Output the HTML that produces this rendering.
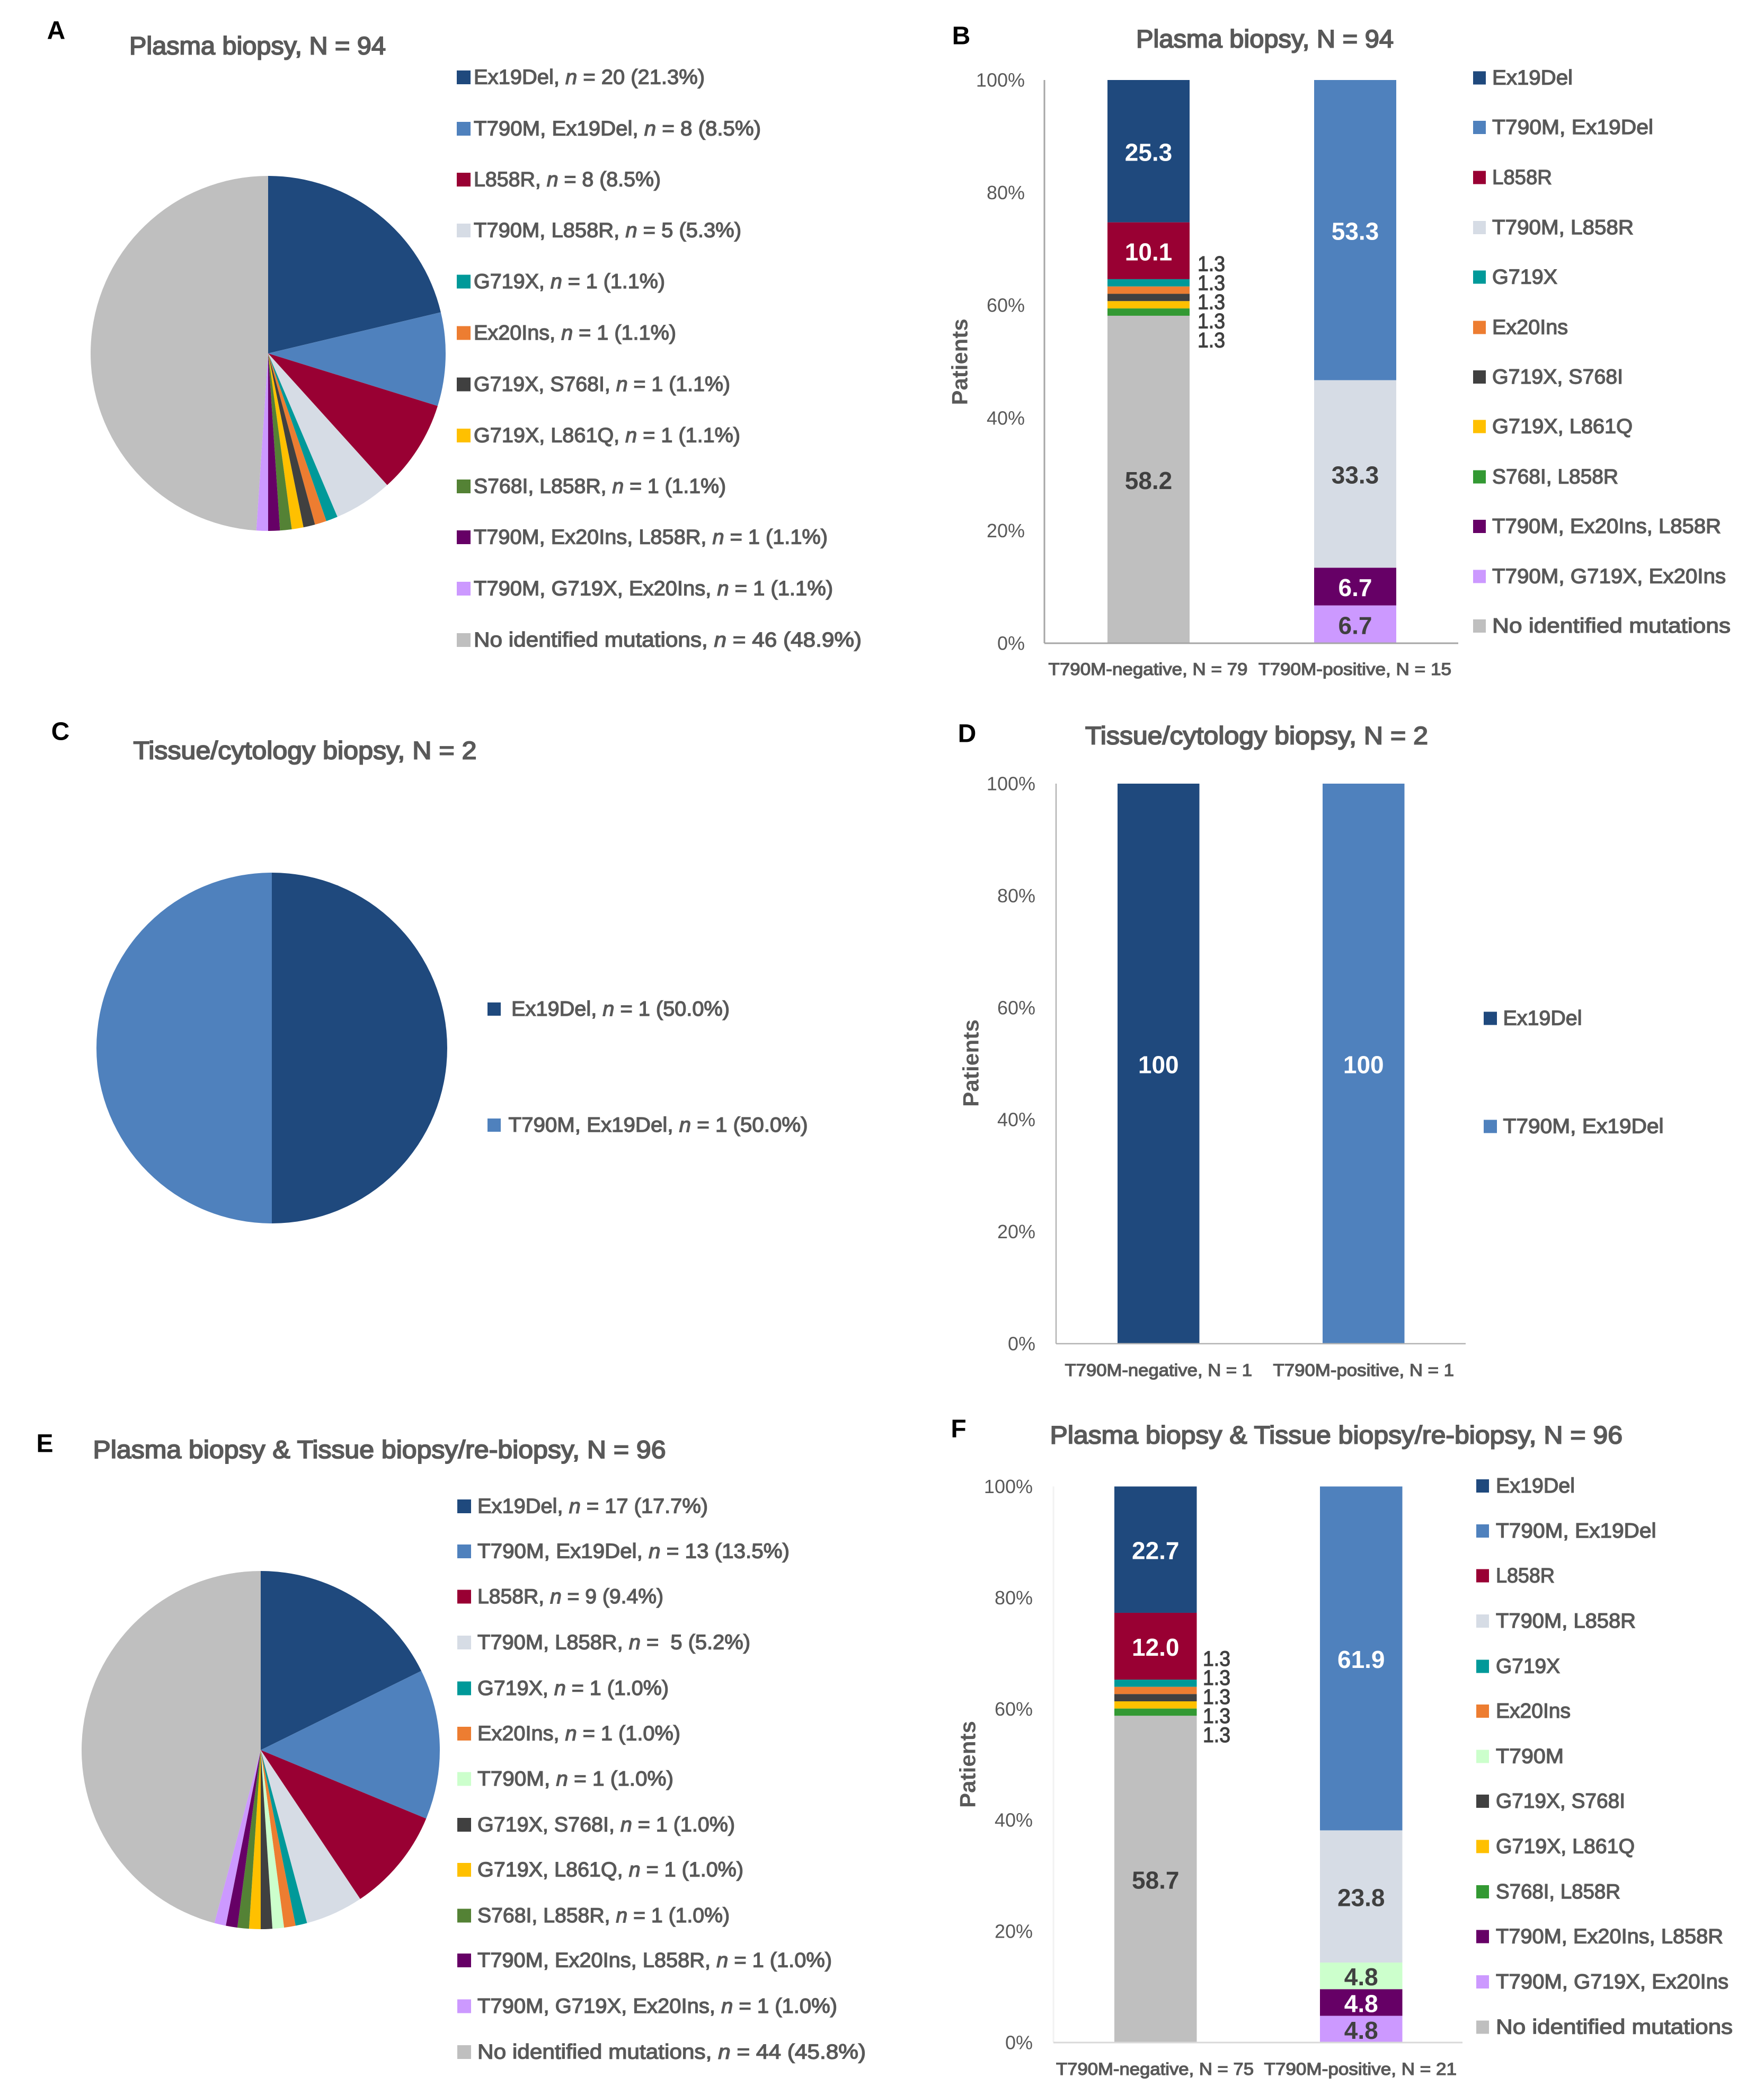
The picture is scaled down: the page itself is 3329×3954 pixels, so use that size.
<!DOCTYPE html>
<html lang="en">
<head>
<meta charset="utf-8">
<title>EGFR mutation distribution by biopsy type</title>
<style>
html,body{margin:0;padding:0;background:#fff}
svg{display:block;font-family:"Liberation Sans",sans-serif}
text{dominant-baseline:central}
.panel-letter{font-size:48px;font-weight:700;fill:#000;text-anchor:middle}
.title{font-size:47px;fill:#595959;stroke:#595959;stroke-width:2}
.lg{font-size:39px;fill:#595959;stroke:#595959;stroke-width:1.4}
.ylab{font-size:42px;font-weight:700;fill:#595959;text-anchor:middle}
.xlab{font-size:32px;fill:#595959;stroke:#595959;stroke-width:1.3}
.tick{font-size:36px;fill:#595959;text-anchor:end}
.val{font-size:46px;font-weight:700;text-anchor:middle}
.small-val{font-size:40px;fill:#404040;stroke:#404040;stroke-width:1.2}
.k-ex19del{fill:#1f497d}
.k-t790m-ex19del{fill:#4f81bd}
.k-l858r{fill:#990033}
.k-t790m-l858r{fill:#d6dce5}
.k-g719x{fill:#009999}
.k-ex20ins{fill:#ed7d31}
.k-t790m{fill:#ccffcc}
.k-g719x-s768i{fill:#404040}
.k-g719x-l861q{fill:#ffc000}
.k-s768i-l858r{fill:#339933}
.k-s768i-l858r-pie{fill:#548235}
.k-t790m-ex20ins-l858r{fill:#660066}
.k-t790m-g719x-ex20ins{fill:#cc99ff}
.k-none{fill:#bfbfbf}
</style>
</head>
<body>
<svg id="figure" xmlns="http://www.w3.org/2000/svg" width="3329" height="3954" viewBox="0 0 3329 3954">
<rect x="0" y="0" width="3329" height="3954" fill="#fff"/>

<!-- Panel A -->
<g>
<text class="panel-letter" x="106" y="58">A</text>
<text class="title" x="244" y="86" textLength="484" lengthAdjust="spacingAndGlyphs">Plasma biopsy, N = 94</text>
<g id="pie-a"></g>
<g>
<g><rect class="k-ex19del" x="862" y="133" width="26" height="26"/><text class="lg" x="894" y="146" textLength="436" lengthAdjust="spacingAndGlyphs">Ex19Del, <tspan font-style="italic">n</tspan> = 20 (21.3%)</text></g>
<g><rect class="k-t790m-ex19del" x="862" y="230" width="26" height="26"/><text class="lg" x="894" y="243" textLength="542" lengthAdjust="spacingAndGlyphs">T790M, Ex19Del, <tspan font-style="italic">n</tspan> = 8 (8.5%)</text></g>
<g><rect class="k-l858r" x="862" y="326" width="26" height="26"/><text class="lg" x="894" y="339" textLength="353" lengthAdjust="spacingAndGlyphs">L858R, <tspan font-style="italic">n</tspan> = 8 (8.5%)</text></g>
<g><rect class="k-t790m-l858r" x="862" y="422" width="26" height="26"/><text class="lg" x="894" y="435" textLength="505" lengthAdjust="spacingAndGlyphs">T790M, L858R, <tspan font-style="italic">n</tspan> = 5 (5.3%)</text></g>
<g><rect class="k-g719x" x="862" y="518.5" width="26" height="26"/><text class="lg" x="894" y="531.5" textLength="361" lengthAdjust="spacingAndGlyphs">G719X, <tspan font-style="italic">n</tspan> = 1 (1.1%)</text></g>
<g><rect class="k-ex20ins" x="862" y="615.5" width="26" height="26"/><text class="lg" x="894" y="628.5" textLength="382" lengthAdjust="spacingAndGlyphs">Ex20Ins, <tspan font-style="italic">n</tspan> = 1 (1.1%)</text></g>
<g><rect class="k-g719x-s768i" x="862" y="712.5" width="26" height="26"/><text class="lg" x="894" y="725.5" textLength="484" lengthAdjust="spacingAndGlyphs">G719X, S768I, <tspan font-style="italic">n</tspan> = 1 (1.1%)</text></g>
<g><rect class="k-g719x-l861q" x="862" y="809" width="26" height="26"/><text class="lg" x="894" y="822" textLength="503" lengthAdjust="spacingAndGlyphs">G719X, L861Q, <tspan font-style="italic">n</tspan> = 1 (1.1%)</text></g>
<g><rect class="k-s768i-l858r-pie" x="862" y="905" width="26" height="26"/><text class="lg" x="894" y="918" textLength="476" lengthAdjust="spacingAndGlyphs">S768I, L858R, <tspan font-style="italic">n</tspan> = 1 (1.1%)</text></g>
<g><rect class="k-t790m-ex20ins-l858r" x="862" y="1001" width="26" height="26"/><text class="lg" x="894" y="1014" textLength="668" lengthAdjust="spacingAndGlyphs">T790M, Ex20Ins, L858R, <tspan font-style="italic">n</tspan> = 1 (1.1%)</text></g>
<g><rect class="k-t790m-g719x-ex20ins" x="862" y="1098" width="26" height="26"/><text class="lg" x="894" y="1111" textLength="678" lengthAdjust="spacingAndGlyphs">T790M, G719X, Ex20Ins, <tspan font-style="italic">n</tspan> = 1 (1.1%)</text></g>
<g><rect class="k-none" x="862" y="1195" width="26" height="26"/><text class="lg" x="894" y="1208" textLength="732" lengthAdjust="spacingAndGlyphs">No identified mutations, <tspan font-style="italic">n</tspan> = 46 (48.9%)</text></g>
</g>
</g>

<!-- Panel B -->
<g>
<text class="panel-letter" x="1814" y="68">B</text>
<text class="title" x="2144" y="73" textLength="486" lengthAdjust="spacingAndGlyphs">Plasma biopsy, N = 94</text>
<text class="ylab" transform="translate(1811 683) rotate(-90)" textLength="163" lengthAdjust="spacingAndGlyphs">Patients</text>
<g id="bars-b"></g>
<text class="xlab" x="1978.5" y="1263" textLength="376" lengthAdjust="spacingAndGlyphs">T790M-negative, N = 79</text>
<text class="xlab" x="2375" y="1263" textLength="364" lengthAdjust="spacingAndGlyphs">T790M-positive, N = 15</text>
<g>
<g><rect class="k-ex19del" x="2780" y="134.5" width="24" height="25"/><text class="lg" x="2816" y="147" textLength="152" lengthAdjust="spacingAndGlyphs">Ex19Del</text></g>
<g><rect class="k-t790m-ex19del" x="2780" y="228" width="24" height="25"/><text class="lg" x="2816" y="240.5" textLength="304" lengthAdjust="spacingAndGlyphs">T790M, Ex19Del</text></g>
<g><rect class="k-l858r" x="2780" y="322.5" width="24" height="25"/><text class="lg" x="2816" y="335" textLength="113" lengthAdjust="spacingAndGlyphs">L858R</text></g>
<g><rect class="k-t790m-l858r" x="2780" y="417" width="24" height="25"/><text class="lg" x="2816" y="429.5" textLength="267" lengthAdjust="spacingAndGlyphs">T790M, L858R</text></g>
<g><rect class="k-g719x" x="2780" y="510.5" width="24" height="25"/><text class="lg" x="2816" y="523" textLength="123" lengthAdjust="spacingAndGlyphs">G719X</text></g>
<g><rect class="k-ex20ins" x="2780" y="605.5" width="24" height="25"/><text class="lg" x="2816" y="618" textLength="143" lengthAdjust="spacingAndGlyphs">Ex20Ins</text></g>
<g><rect class="k-g719x-s768i" x="2780" y="699" width="24" height="25"/><text class="lg" x="2816" y="711.5" textLength="247" lengthAdjust="spacingAndGlyphs">G719X, S768I</text></g>
<g><rect class="k-g719x-l861q" x="2780" y="792.5" width="24" height="25"/><text class="lg" x="2816" y="805" textLength="265" lengthAdjust="spacingAndGlyphs">G719X, L861Q</text></g>
<g><rect class="k-s768i-l858r" x="2780" y="887.5" width="24" height="25"/><text class="lg" x="2816" y="900" textLength="238" lengthAdjust="spacingAndGlyphs">S768I, L858R</text></g>
<g><rect class="k-t790m-ex20ins-l858r" x="2780" y="981" width="24" height="25"/><text class="lg" x="2816" y="993.5" textLength="432" lengthAdjust="spacingAndGlyphs">T790M, Ex20Ins, L858R</text></g>
<g><rect class="k-t790m-g719x-ex20ins" x="2780" y="1075.5" width="24" height="25"/><text class="lg" x="2816" y="1088" textLength="441" lengthAdjust="spacingAndGlyphs">T790M, G719X, Ex20Ins</text></g>
<g><rect class="k-none" x="2780" y="1169" width="24" height="25"/><text class="lg" x="2816" y="1181.5" textLength="450" lengthAdjust="spacingAndGlyphs">No identified mutations</text></g>
</g>
</g>

<!-- Panel C -->
<g>
<text class="panel-letter" x="114" y="1381">C</text>
<text class="title" x="251.5" y="1416" textLength="648" lengthAdjust="spacingAndGlyphs">Tissue/cytology biopsy, N = 2</text>
<g id="pie-c"></g>
<g>
<g><rect class="k-ex19del" x="920" y="1892" width="25" height="25"/><text class="lg" x="965" y="1904.5" textLength="412" lengthAdjust="spacingAndGlyphs">Ex19Del, <tspan font-style="italic">n</tspan> = 1 (50.0%)</text></g>
<g><rect class="k-t790m-ex19del" x="920" y="2111" width="25" height="25"/><text class="lg" x="959.5" y="2123.5" textLength="565" lengthAdjust="spacingAndGlyphs">T790M, Ex19Del, <tspan font-style="italic">n</tspan> = 1 (50.0%)</text></g>
</g>
</g>

<!-- Panel D -->
<g>
<text class="panel-letter" x="1825" y="1385">D</text>
<text class="title" x="2048" y="1388" textLength="647" lengthAdjust="spacingAndGlyphs">Tissue/cytology biopsy, N = 2</text>
<text class="ylab" transform="translate(1832 2006.5) rotate(-90)" textLength="165" lengthAdjust="spacingAndGlyphs">Patients</text>
<g id="bars-d"></g>
<text class="xlab" x="2009.5" y="2586" textLength="353.5" lengthAdjust="spacingAndGlyphs">T790M-negative, N = 1</text>
<text class="xlab" x="2402.5" y="2586" textLength="341.5" lengthAdjust="spacingAndGlyphs">T790M-positive, N = 1</text>
<g>
<g><rect class="k-ex19del" x="2800" y="1909.5" width="25" height="25"/><text class="lg" x="2836.5" y="1922" textLength="149" lengthAdjust="spacingAndGlyphs">Ex19Del</text></g>
<g><rect class="k-t790m-ex19del" x="2800" y="2113.5" width="25" height="25"/><text class="lg" x="2836.5" y="2126" textLength="303" lengthAdjust="spacingAndGlyphs">T790M, Ex19Del</text></g>
</g>
</g>

<!-- Panel E -->
<g>
<text class="panel-letter" x="84.5" y="2725">E</text>
<text class="title" x="175.5" y="2735.5" textLength="1081" lengthAdjust="spacingAndGlyphs">Plasma biopsy &amp; Tissue biopsy/re-biopsy, N = 96</text>
<g id="pie-e"></g>
<g>
<g><rect class="k-ex19del" x="863" y="2830" width="26" height="26"/><text class="lg" x="901" y="2843" textLength="435" lengthAdjust="spacingAndGlyphs">Ex19Del, <tspan font-style="italic">n</tspan> = 17 (17.7%)</text></g>
<g><rect class="k-t790m-ex19del" x="863" y="2915" width="26" height="26"/><text class="lg" x="901" y="2928" textLength="589" lengthAdjust="spacingAndGlyphs">T790M, Ex19Del, <tspan font-style="italic">n</tspan> = 13 (13.5%)</text></g>
<g><rect class="k-l858r" x="863" y="3000.5" width="26" height="26"/><text class="lg" x="901" y="3013.5" textLength="351" lengthAdjust="spacingAndGlyphs">L858R, <tspan font-style="italic">n</tspan> = 9 (9.4%)</text></g>
<g><rect class="k-t790m-l858r" x="863" y="3087" width="26" height="26"/><text class="lg" x="901" y="3100" textLength="515" lengthAdjust="spacingAndGlyphs">T790M, L858R, <tspan font-style="italic">n</tspan> = &#160;5 (5.2%)</text></g>
<g><rect class="k-g719x" x="863" y="3173.5" width="26" height="26"/><text class="lg" x="901" y="3186.5" textLength="361" lengthAdjust="spacingAndGlyphs">G719X, <tspan font-style="italic">n</tspan> = 1 (1.0%)</text></g>
<g><rect class="k-ex20ins" x="863" y="3259" width="26" height="26"/><text class="lg" x="901" y="3272" textLength="383" lengthAdjust="spacingAndGlyphs">Ex20Ins, <tspan font-style="italic">n</tspan> = 1 (1.0%)</text></g>
<g><rect class="k-t790m" x="863" y="3344.5" width="26" height="26"/><text class="lg" x="901" y="3357.5" textLength="370" lengthAdjust="spacingAndGlyphs">T790M, <tspan font-style="italic">n</tspan> = 1 (1.0%)</text></g>
<g><rect class="k-g719x-s768i" x="863" y="3431" width="26" height="26"/><text class="lg" x="901" y="3444" textLength="486" lengthAdjust="spacingAndGlyphs">G719X, S768I, <tspan font-style="italic">n</tspan> = 1 (1.0%)</text></g>
<g><rect class="k-g719x-l861q" x="863" y="3516" width="26" height="26"/><text class="lg" x="901" y="3529" textLength="502" lengthAdjust="spacingAndGlyphs">G719X, L861Q, <tspan font-style="italic">n</tspan> = 1 (1.0%)</text></g>
<g><rect class="k-s768i-l858r-pie" x="863" y="3602.5" width="26" height="26"/><text class="lg" x="901" y="3615.5" textLength="476" lengthAdjust="spacingAndGlyphs">S768I, L858R, <tspan font-style="italic">n</tspan> = 1 (1.0%)</text></g>
<g><rect class="k-t790m-ex20ins-l858r" x="863" y="3687" width="26" height="26"/><text class="lg" x="901" y="3700" textLength="669" lengthAdjust="spacingAndGlyphs">T790M, Ex20Ins, L858R, <tspan font-style="italic">n</tspan> = 1 (1.0%)</text></g>
<g><rect class="k-t790m-g719x-ex20ins" x="863" y="3773.5" width="26" height="26"/><text class="lg" x="901" y="3786.5" textLength="679" lengthAdjust="spacingAndGlyphs">T790M, G719X, Ex20Ins, <tspan font-style="italic">n</tspan> = 1 (1.0%)</text></g>
<g><rect class="k-none" x="863" y="3860" width="26" height="26"/><text class="lg" x="901" y="3873" textLength="733" lengthAdjust="spacingAndGlyphs">No identified mutations, <tspan font-style="italic">n</tspan> = 44 (45.8%)</text></g>
</g>
</g>

<!-- Panel F -->
<g>
<text class="panel-letter" x="1809" y="2697">F</text>
<text class="title" x="1981.5" y="2708" textLength="1080.5" lengthAdjust="spacingAndGlyphs">Plasma biopsy &amp; Tissue biopsy/re-biopsy, N = 96</text>
<text class="ylab" transform="translate(1826 3330) rotate(-90)" textLength="164" lengthAdjust="spacingAndGlyphs">Patients</text>
<g id="bars-f"></g>
<text class="xlab" x="1993" y="3905" textLength="373" lengthAdjust="spacingAndGlyphs">T790M-negative, N = 75</text>
<text class="xlab" x="2385.5" y="3905" textLength="363.5" lengthAdjust="spacingAndGlyphs">T790M-positive, N = 21</text>
<g>
<g><rect class="k-ex19del" x="2786" y="2792" width="24" height="25"/><text class="lg" x="2823" y="2804.5" textLength="149" lengthAdjust="spacingAndGlyphs">Ex19Del</text></g>
<g><rect class="k-t790m-ex19del" x="2786" y="2877" width="24" height="25"/><text class="lg" x="2823" y="2889.5" textLength="302.5" lengthAdjust="spacingAndGlyphs">T790M, Ex19Del</text></g>
<g><rect class="k-l858r" x="2786" y="2961.5" width="24" height="25"/><text class="lg" x="2823" y="2974" textLength="111" lengthAdjust="spacingAndGlyphs">L858R</text></g>
<g><rect class="k-t790m-l858r" x="2786" y="3047" width="24" height="25"/><text class="lg" x="2823" y="3059.5" textLength="264" lengthAdjust="spacingAndGlyphs">T790M, L858R</text></g>
<g><rect class="k-g719x" x="2786" y="3132.5" width="24" height="25"/><text class="lg" x="2823" y="3145" textLength="121" lengthAdjust="spacingAndGlyphs">G719X</text></g>
<g><rect class="k-ex20ins" x="2786" y="3217" width="24" height="25"/><text class="lg" x="2823" y="3229.5" textLength="141" lengthAdjust="spacingAndGlyphs">Ex20Ins</text></g>
<g><rect class="k-t790m" x="2786" y="3302.5" width="24" height="25"/><text class="lg" x="2823" y="3315" textLength="128" lengthAdjust="spacingAndGlyphs">T790M</text></g>
<g><rect class="k-g719x-s768i" x="2786" y="3387" width="24" height="25"/><text class="lg" x="2823" y="3399.5" textLength="244" lengthAdjust="spacingAndGlyphs">G719X, S768I</text></g>
<g><rect class="k-g719x-l861q" x="2786" y="3472.5" width="24" height="25"/><text class="lg" x="2823" y="3485" textLength="262" lengthAdjust="spacingAndGlyphs">G719X, L861Q</text></g>
<g><rect class="k-s768i-l858r" x="2786" y="3558" width="24" height="25"/><text class="lg" x="2823" y="3570.5" textLength="235" lengthAdjust="spacingAndGlyphs">S768I, L858R</text></g>
<g><rect class="k-t790m-ex20ins-l858r" x="2786" y="3642.5" width="24" height="25"/><text class="lg" x="2823" y="3655" textLength="429" lengthAdjust="spacingAndGlyphs">T790M, Ex20Ins, L858R</text></g>
<g><rect class="k-t790m-g719x-ex20ins" x="2786" y="3728" width="24" height="25"/><text class="lg" x="2823" y="3740.5" textLength="439" lengthAdjust="spacingAndGlyphs">T790M, G719X, Ex20Ins</text></g>
<g><rect class="k-none" x="2786" y="3813.5" width="24" height="25"/><text class="lg" x="2823" y="3826" textLength="447" lengthAdjust="spacingAndGlyphs">No identified mutations</text></g>
</g>
</g>
</svg>

<script>
// ---- chart data ----
const percentTicks = [0, 20, 40, 60, 80, 100];

const panelAKeys = ['ex19del', 't790m-ex19del', 'l858r', 't790m-l858r', 'g719x', 'ex20ins', 'g719x-s768i', 'g719x-l861q', 's768i-l858r', 't790m-ex20ins-l858r', 't790m-g719x-ex20ins', 'none'];
const panelACounts = [20, 8, 8, 5, 1, 1, 1, 1, 1, 1, 1, 46];

const panelBKeys = ['ex19del', 't790m-ex19del', 'l858r', 't790m-l858r', 'g719x', 'ex20ins', 'g719x-s768i', 'g719x-l861q', 's768i-l858r', 't790m-ex20ins-l858r', 't790m-g719x-ex20ins', 'none'];
const panelBNegative = [25.3, 0, 10.1, 0, 1.3, 1.3, 1.3, 1.3, 1.3, 0, 0, 58.2];
const panelBPositive = [0, 53.3, 0, 33.3, 0, 0, 0, 0, 0, 6.7, 6.7, 0];

const panelCKeys = ['ex19del', 't790m-ex19del'];
const panelCCounts = [1, 1];

const panelDKeys = ['ex19del', 't790m-ex19del'];
const panelDNegative = [100, 0];
const panelDPositive = [0, 100];

const panelEKeys = ['ex19del', 't790m-ex19del', 'l858r', 't790m-l858r', 'g719x', 'ex20ins', 't790m', 'g719x-s768i', 'g719x-l861q', 's768i-l858r', 't790m-ex20ins-l858r', 't790m-g719x-ex20ins', 'none'];
const panelECounts = [17, 13, 9, 5, 1, 1, 1, 1, 1, 1, 1, 1, 44];

const panelFKeys = ['ex19del', 't790m-ex19del', 'l858r', 't790m-l858r', 'g719x', 'ex20ins', 't790m', 'g719x-s768i', 'g719x-l861q', 's768i-l858r', 't790m-ex20ins-l858r', 't790m-g719x-ex20ins', 'none'];
const panelFNegative = [22.7, 0, 12.0, 0, 1.3, 1.3, 0, 1.3, 1.3, 1.3, 0, 0, 58.7];
const panelFPositive = [0, 61.9, 0, 23.8, 0, 0, 4.8, 0, 0, 0, 4.8, 4.8, 0];

// ---- drawing ----
const SVG_NS = 'http://www.w3.org/2000/svg';
const DARK_FILL_KEYS = new Set(['ex19del', 't790m-ex19del', 'l858r', 't790m-ex20ins-l858r']);
const SMALL_SEGMENT_LIMIT = 2;

function svgEl(tag, parent) {
  const el = document.createElementNS(SVG_NS, tag);
  parent.appendChild(el);
  return el;
}

function drawPie(groupId, keys, counts, cx, cy, r) {
  const group = document.getElementById(groupId);
  const total = counts.reduce((a, b) => a + b, 0);
  let cum = 0;
  counts.forEach((count, i) => {
    const a0 = cum / total * 2 * Math.PI;
    cum += count;
    const a1 = cum / total * 2 * Math.PI;
    const x0 = cx + r * Math.sin(a0);
    const y0 = cy - r * Math.cos(a0);
    const x1 = cx + r * Math.sin(a1);
    const y1 = cy - r * Math.cos(a1);
    const large = a1 - a0 > Math.PI ? 1 : 0;
    const slice = svgEl('path', group);
    slice.setAttribute('d', `M${cx} ${cy}L${x0} ${y0}A${r} ${r} 0 ${large} 1 ${x1} ${y1}Z`);
    const cls = keys[i] === 's768i-l858r' ? 'k-s768i-l858r-pie' : 'k-' + keys[i];
    slice.setAttribute('class', cls);
    
    
  });
}

function drawBars(groupId, keys, seriesList, ax) {
  const group = document.getElementById(groupId);
  const yScale = p => ax.bottom - p / 100 * (ax.bottom - ax.top);

  percentTicks.forEach(t => {
    const tick = svgEl('text', group);
    tick.setAttribute('class', 'tick');
    tick.setAttribute('x', ax.tickRight);
    tick.setAttribute('y', yScale(t));
    tick.textContent = t + '%';
    
    
  });

  seriesList.forEach((values, c) => {
    const total = values.reduce((a, b) => a + b, 0);
    let upper = 100;
    const small = [];
    values.forEach((v, i) => {
      if (!v) return;
      const share = v / total * 100;
      const yTop = yScale(upper);
      const yBot = yScale(upper - share);
      upper -= share;
      const bar = svgEl('rect', group);
      bar.setAttribute('x', ax.barX[c]);
      bar.setAttribute('y', yTop);
      bar.setAttribute('width', ax.barW);
      bar.setAttribute('height', yBot - yTop);
      bar.setAttribute('class', 'k-' + keys[i]);
      
      
      if (v < SMALL_SEGMENT_LIMIT) {
        small.push({ v: v, mid: (yTop + yBot) / 2 });
        return;
      }
      const label = svgEl('text', group);
      label.setAttribute('class', 'val');
      label.setAttribute('x', ax.barX[c] + ax.barW / 2);
      label.setAttribute('y', (yTop + yBot) / 2 + 2);
      label.setAttribute('fill', DARK_FILL_KEYS.has(keys[i]) ? '#ffffff' : '#404040');
      label.textContent = ax.digits ? v.toFixed(1) : String(v);
      
      
    });
    // tiny segments get a fanned-out column of labels beside the bar
    if (small.length) {
      const centre = small[Math.floor(small.length / 2)].mid + ax.smallOffset;
      small.forEach((s, k) => {
        const label = svgEl('text', group);
        label.setAttribute('class', 'small-val');
        label.setAttribute('x', ax.barX[c] + ax.barW + ax.smallGap);
        label.setAttribute('y', centre + (k - (small.length - 1) / 2) * 36);
        label.setAttribute('textLength', '52');
        label.setAttribute('lengthAdjust', 'spacingAndGlyphs');
        label.textContent = s.v.toFixed(1);
        
        
      });
    }
  });

  const yAxis = svgEl('line', group);
  yAxis.setAttribute('x1', ax.x0);
  yAxis.setAttribute('x2', ax.x0);
  yAxis.setAttribute('y1', ax.top);
  yAxis.setAttribute('y2', ax.bottom);
  yAxis.setAttribute('stroke', ax.yAxisColor);
  yAxis.setAttribute('stroke-width', ax.axisWidth);
  
  

  const xAxis = svgEl('line', group);
  xAxis.setAttribute('x1', ax.x0);
  xAxis.setAttribute('x2', ax.xEnd);
  xAxis.setAttribute('y1', ax.bottom);
  xAxis.setAttribute('y2', ax.bottom);
  xAxis.setAttribute('stroke', ax.xAxisColor);
  xAxis.setAttribute('stroke-width', ax.axisWidth);
  
  
}

drawPie('pie-a', panelAKeys, panelACounts, 506, 667, 335);
drawPie('pie-c', panelCKeys, panelCCounts, 513, 1978, 331);
drawPie('pie-e', panelEKeys, panelECounts, 492, 3303, 338);

drawBars('bars-b', panelBKeys, [panelBNegative, panelBPositive], {
  x0: 1971, xEnd: 2752, top: 151, bottom: 1214, tickRight: 1934,
  barX: [2090, 2480], barW: 155, smallOffset: 9, smallGap: 15, digits: true,
  yAxisColor: '#a6a6a6', xAxisColor: '#a6a6a6', axisWidth: 3
});
drawBars('bars-d', panelDKeys, [panelDNegative, panelDPositive], {
  x0: 1993, xEnd: 2766, top: 1479, bottom: 2536, tickRight: 1954,
  barX: [2109, 2496], barW: 154.5, smallOffset: 0, smallGap: 15, digits: false,
  yAxisColor: '#b3b3b3', xAxisColor: '#b3b3b3', axisWidth: 2.5
});
drawBars('bars-f', panelFKeys, [panelFNegative, panelFPositive], {
  x0: 1988, xEnd: 2760, top: 2805.5, bottom: 3855, tickRight: 1949,
  barX: [2103, 2491], barW: 155.5, smallOffset: -1, smallGap: 11.5, digits: true,
  yAxisColor: '#f2f2f2', xAxisColor: '#d9d9d9', axisWidth: 3
});
</script>
</body>
</html>
